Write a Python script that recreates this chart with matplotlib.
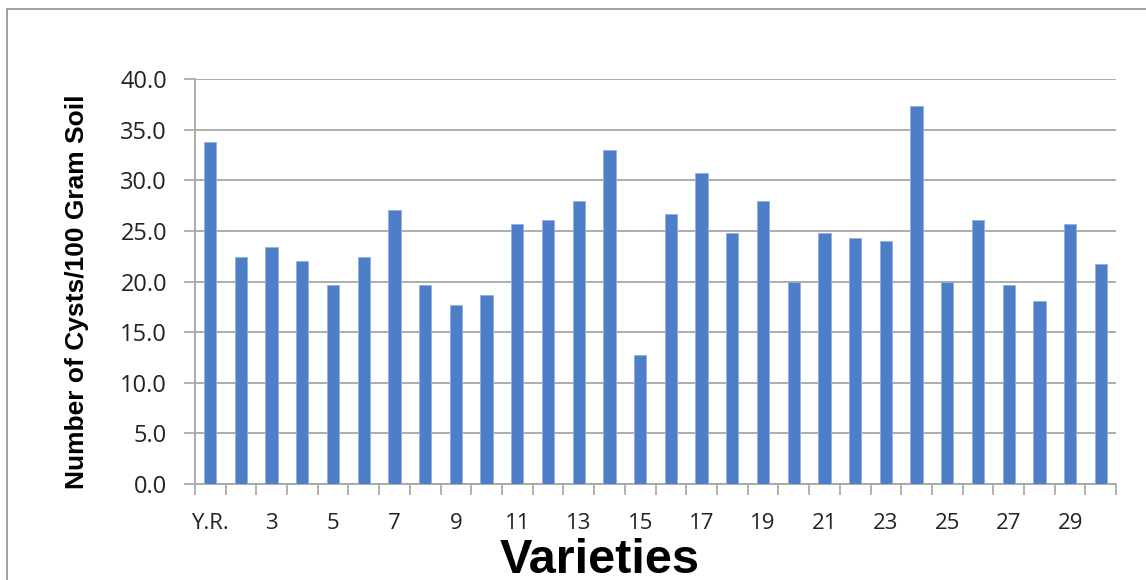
import numpy as np
import matplotlib
matplotlib.use("Agg")
from matplotlib import pyplot as plt
from matplotlib.patches import Rectangle

# varieties (first one is the Y.R. check)
varieties = ["Y.R."] + [str(i) for i in range(2, 31)]
cysts = [33.8, 22.4, 23.4, 22.0, 19.7, 22.4, 27.1, 19.7, 17.7, 18.7,
         25.7, 26.1, 28.0, 33.0, 12.7, 26.7, 30.7, 24.8, 28.0, 20.0,
         24.8, 24.3, 24.0, 37.3, 20.0, 26.1, 19.7, 18.1, 25.7, 21.7]
yticks = [0, 5, 10, 15, 20, 25, 30, 35, 40]

grey = "#a6a6a6"
fig = plt.figure(figsize=(11.46, 5.8), dpi=100)
fig.patches.append(Rectangle((7 / 1146, -0.1), 1.2, 1 - 9 / 580 + 0.1,
                             transform=fig.transFigure, fill=False,
                             edgecolor="#9a9a9a", linewidth=1.3))

ax = fig.add_axes([0.170, 0.1655, 0.804, 0.6983])
x = np.arange(len(varieties))
ax.bar(x, cysts, width=0.4, color="#4f7ec8", edgecolor="#8fb0e0", linewidth=0.6, zorder=3)

ax.set_xlim(-0.5, len(varieties) - 0.5)
ax.set_ylim(0, 40)
ax.set_yticks(yticks)
ax.set_yticklabels([f"{v:.1f}" for v in yticks], fontsize=17, family="Open Sans", color="#222222")
ax.yaxis.grid(True, color=grey, linewidth=1.3, zorder=0)

# labels on every other variety, tick marks between categories
ax.set_xticks(x[::2])
ax.set_xticklabels(varieties[::2], fontsize=16, family="Open Sans", color="#222222")
ax.set_xticks(np.arange(-0.5, len(varieties), 1), minor=True)
ax.tick_params(axis="x", which="major", length=0, pad=21)
ax.tick_params(axis="x", which="minor", length=8, color=grey, width=1.2)
ax.tick_params(axis="y", length=8, color=grey, width=1.2, pad=12)

for s in ["top", "right"]:
    ax.spines[s].set_visible(False)
for s in ["left", "bottom"]:
    ax.spines[s].set_color(grey)
    ax.spines[s].set_linewidth(1.3)

ax.set_ylabel("Number of Cysts/100 Gram Soil", fontsize=19, fontweight="bold",
              family="Liberation Sans")
ax.yaxis.set_label_coords(-0.115, 0.475)
ax.set_xlabel("Varieties", fontsize=35, fontweight="bold", family="Liberation Sans")
ax.xaxis.set_label_coords(0.439, -0.188)
ax.xaxis.label.set_va("center")

fig.savefig("out.png", dpi=100)
